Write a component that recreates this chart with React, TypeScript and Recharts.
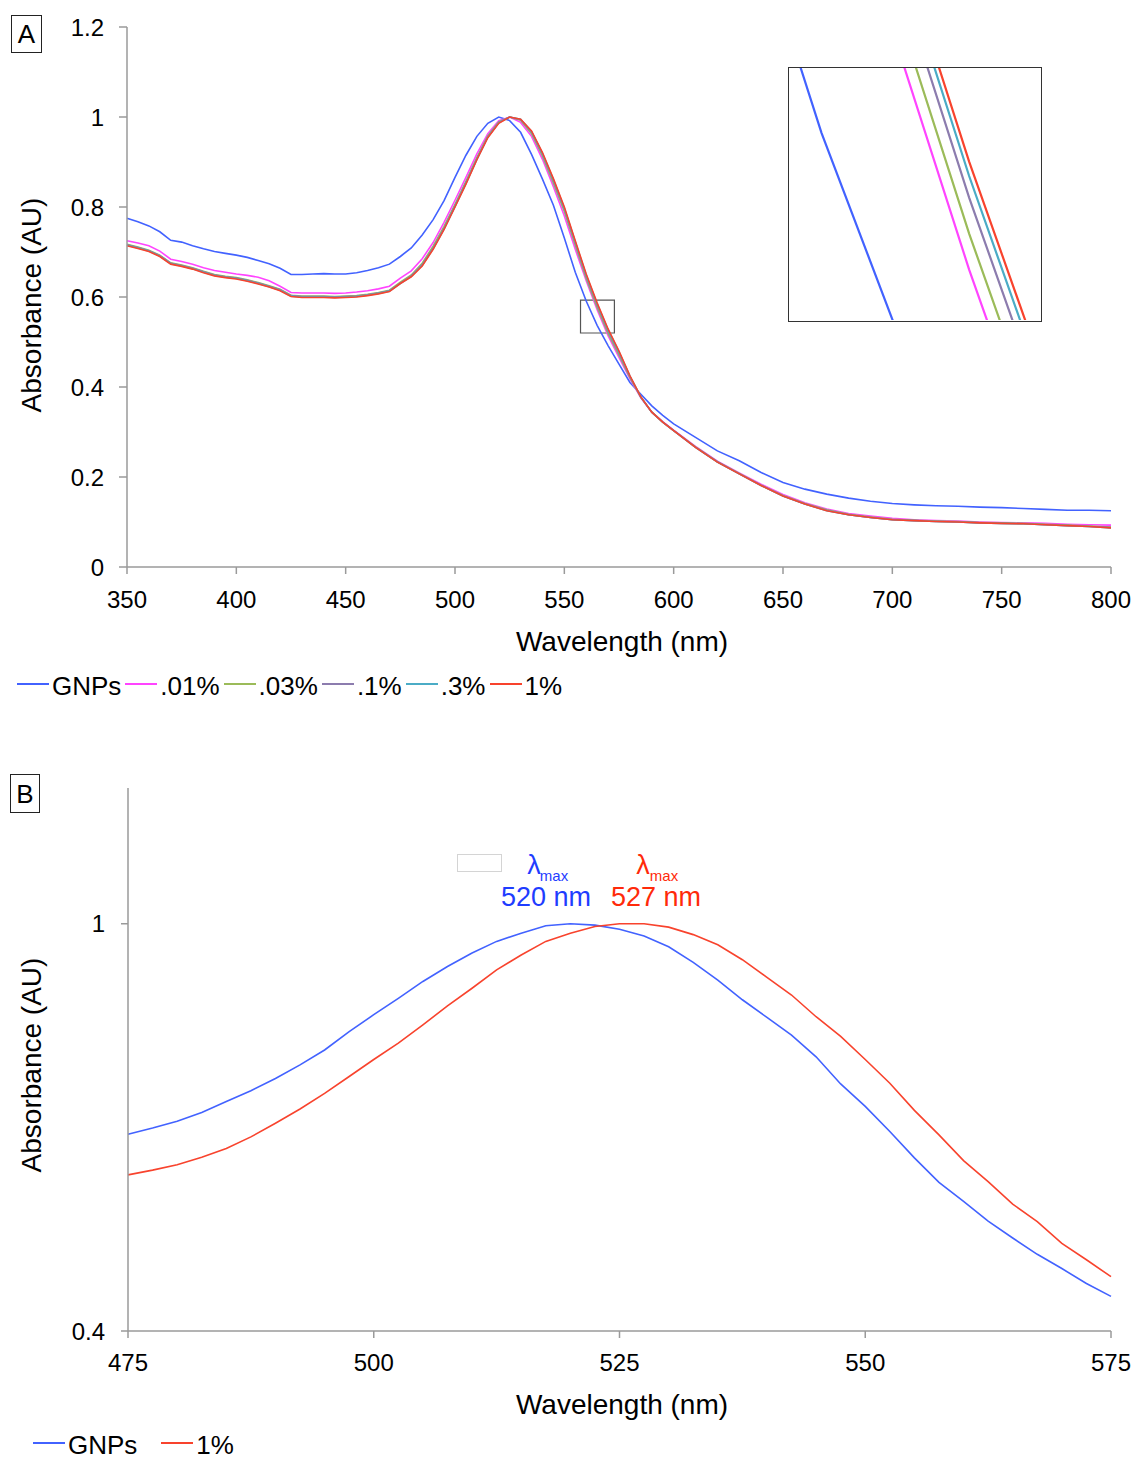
import { LineChart, Line, XAxis, YAxis, ReferenceArea } from "recharts";

const FONT = '"Liberation Sans", Arial, Helvetica, sans-serif';

// Panel A: full spectra, 350-800 nm
const WAVE_A = [
  350, 355, 360, 365, 370, 375, 380, 385, 390, 395,
  400, 405, 410, 415, 420, 425, 430, 435, 440, 445,
  450, 455, 460, 465, 470, 475, 480, 485, 490, 495,
  500, 505, 510, 515, 520, 525, 530, 535, 540, 545,
  550, 555, 560, 565, 570, 575, 580, 585, 590, 595,
  600, 610, 620, 630, 640, 650, 660, 670, 680, 690,
  700, 710, 720, 730, 740, 750, 760, 770, 780, 790,
  800,
];

const GNPS_A = [
  0.775, 0.767, 0.758, 0.745, 0.726, 0.722, 0.714, 0.707, 0.701, 0.697,
  0.693, 0.688, 0.681, 0.674, 0.664, 0.650, 0.650, 0.651, 0.652, 0.651,
  0.651, 0.654, 0.659, 0.665, 0.673, 0.690, 0.709, 0.738, 0.772, 0.814,
  0.866, 0.915, 0.957, 0.986, 1.0, 0.992, 0.966, 0.917, 0.862, 0.804,
  0.731, 0.655, 0.591, 0.537, 0.492, 0.451, 0.410, 0.384, 0.358, 0.337,
  0.318, 0.288, 0.258, 0.236, 0.210, 0.188, 0.173, 0.162, 0.153, 0.146,
  0.141, 0.138, 0.136, 0.135, 0.133, 0.132, 0.130, 0.128, 0.126, 0.126,
  0.125,
];

const P001_A = [
  0.725, 0.720, 0.714, 0.702, 0.684, 0.679, 0.673, 0.665, 0.659, 0.655,
  0.651, 0.648, 0.644, 0.636, 0.624, 0.610, 0.609, 0.609, 0.609, 0.608,
  0.609, 0.611, 0.614, 0.618, 0.624, 0.642, 0.658, 0.685, 0.721, 0.766,
  0.815, 0.866, 0.918, 0.963, 0.992, 1.0, 0.988, 0.957, 0.906, 0.845,
  0.780, 0.706, 0.636, 0.572, 0.514, 0.466, 0.418, 0.376, 0.344, 0.323,
  0.304, 0.268, 0.235, 0.209, 0.184, 0.161, 0.143, 0.129, 0.119, 0.113,
  0.108, 0.105, 0.103, 0.102, 0.100, 0.099, 0.098, 0.097, 0.095, 0.094,
  0.093,
];

const P003_A = [
  0.717, 0.711, 0.704, 0.693, 0.676, 0.671, 0.665, 0.657, 0.650, 0.646,
  0.643, 0.638, 0.632, 0.625, 0.617, 0.604, 0.602, 0.602, 0.602, 0.601,
  0.602, 0.603, 0.606, 0.610, 0.615, 0.633, 0.649, 0.675, 0.713, 0.757,
  0.806, 0.857, 0.910, 0.958, 0.989, 1.0, 0.993, 0.963, 0.913, 0.853,
  0.790, 0.715, 0.641, 0.577, 0.519, 0.471, 0.421, 0.377, 0.344, 0.322,
  0.303, 0.267, 0.234, 0.208, 0.182, 0.159, 0.141, 0.127, 0.117, 0.111,
  0.106, 0.104, 0.102, 0.101, 0.099, 0.098, 0.097, 0.095, 0.093, 0.091,
  0.089,
];

const P01_A = [
  0.716, 0.710, 0.703, 0.692, 0.675, 0.670, 0.664, 0.656, 0.649, 0.645,
  0.642, 0.637, 0.631, 0.624, 0.616, 0.603, 0.601, 0.601, 0.601, 0.600,
  0.601, 0.602, 0.605, 0.609, 0.614, 0.631, 0.647, 0.672, 0.709, 0.753,
  0.803, 0.854, 0.907, 0.956, 0.988, 1.0, 0.994, 0.966, 0.917, 0.858,
  0.795, 0.720, 0.646, 0.582, 0.524, 0.475, 0.423, 0.377, 0.344, 0.322,
  0.303, 0.266, 0.234, 0.207, 0.181, 0.158, 0.140, 0.126, 0.116, 0.110,
  0.105, 0.103, 0.101, 0.100, 0.098, 0.097, 0.096, 0.094, 0.092, 0.090,
  0.088,
];

const P03_A = [
  0.715, 0.709, 0.702, 0.691, 0.674, 0.669, 0.663, 0.655, 0.648, 0.644,
  0.641, 0.636, 0.630, 0.623, 0.615, 0.602, 0.600, 0.600, 0.600, 0.599,
  0.600, 0.601, 0.604, 0.608, 0.613, 0.630, 0.646, 0.670, 0.707, 0.751,
  0.801, 0.852, 0.906, 0.955, 0.987, 1.0, 0.995, 0.968, 0.919, 0.861,
  0.798, 0.723, 0.649, 0.585, 0.527, 0.478, 0.424, 0.378, 0.344, 0.322,
  0.303, 0.266, 0.233, 0.207, 0.181, 0.158, 0.140, 0.125, 0.116, 0.110,
  0.105, 0.103, 0.101, 0.100, 0.098, 0.097, 0.096, 0.094, 0.092, 0.090,
  0.087,
];

const P1_A = [
  0.714, 0.708, 0.701, 0.690, 0.673, 0.668, 0.662, 0.654, 0.647, 0.643,
  0.640, 0.635, 0.629, 0.622, 0.614, 0.601, 0.599, 0.599, 0.599, 0.598,
  0.599, 0.600, 0.603, 0.607, 0.612, 0.630, 0.645, 0.669, 0.706, 0.750,
  0.800, 0.851, 0.905, 0.954, 0.986, 1.0, 0.995, 0.969, 0.921, 0.863,
  0.800, 0.725, 0.651, 0.587, 0.529, 0.480, 0.425, 0.378, 0.344, 0.322,
  0.303, 0.266, 0.233, 0.207, 0.181, 0.158, 0.140, 0.125, 0.116, 0.110,
  0.105, 0.103, 0.101, 0.100, 0.098, 0.097, 0.096, 0.094, 0.092, 0.090,
  0.087,
];

// Panel B: close-up of the peak, 475-575 nm
const WAVE_B = [
  475, 477.5, 480, 482.5, 485, 487.5, 490, 492.5, 495, 497.5,
  500, 502.5, 505, 507.5, 510, 512.5, 515, 517.5, 520, 522.5,
  525, 527.5, 530, 532.5, 535, 537.5, 540, 542.5, 545, 547.5,
  550, 552.5, 555, 557.5, 560, 562.5, 565, 567.5, 570, 572.5,
  575,
];

const GNPS_B = [
  0.690, 0.699, 0.709, 0.722, 0.738, 0.754, 0.772, 0.792, 0.814, 0.841,
  0.866, 0.890, 0.915, 0.937, 0.957, 0.974, 0.986, 0.997, 1.0, 0.998,
  0.992, 0.982, 0.966, 0.943, 0.917, 0.888, 0.862, 0.836, 0.804, 0.764,
  0.731, 0.694, 0.655, 0.619, 0.591, 0.562, 0.537, 0.513, 0.492, 0.470,
  0.451,
];

const P1_B = [
  0.630, 0.637, 0.645, 0.656, 0.669, 0.686, 0.706, 0.727, 0.750, 0.775,
  0.800, 0.824, 0.851, 0.879, 0.905, 0.932, 0.954, 0.974, 0.986, 0.996,
  1.0, 1.0, 0.995, 0.984, 0.969, 0.947, 0.921, 0.895, 0.863, 0.834,
  0.800, 0.765, 0.725, 0.689, 0.651, 0.620, 0.587, 0.561, 0.529, 0.505,
  0.480,
];

const X_TICKS_A = [350, 400, 450, 500, 550, 600, 650, 700, 750, 800];
const Y_TICKS_A = [0, 0.2, 0.4, 0.6, 0.8, 1, 1.2];
const X_TICKS_B = [475, 500, 525, 550, 575];
const Y_TICKS_B = [0.4, 1];

const SERIES_A = [
  { key: "gnp", name: "GNPs", color: "#4262ff", values: GNPS_A },
  { key: "p001", name: ".01%", color: "#ff44ff", values: P001_A },
  { key: "p003", name: ".03%", color: "#9bbb59", values: P003_A },
  { key: "p01", name: ".1%", color: "#8c7cae", values: P01_A },
  { key: "p03", name: ".3%", color: "#4bacc6", values: P03_A },
  { key: "p1", name: "1%", color: "#f8432d", values: P1_A },
];

const SERIES_B = [
  { key: "gnp", name: "GNPs", color: "#4262ff", values: GNPS_B },
  { key: "p1", name: "1%", color: "#f8432d", values: P1_B },
];

const dataA = WAVE_A.map((w, i) => {
  const row: Record<string, number> = { w };
  SERIES_A.forEach((s) => (row[s.key] = s.values[i]));
  return row;
});

const dataB = WAVE_B.map((w, i) => {
  const row: Record<string, number> = { w };
  SERIES_B.forEach((s) => (row[s.key] = s.values[i]));
  return row;
});

const AXIS = "#9a9a9a";
const tickStyle = { fill: "#000", fontSize: 24, fontFamily: FONT };

function Centered({
  x,
  y,
  size,
  color = "#000",
  rotate = false,
  children,
}: {
  x: number;
  y: number;
  size: number;
  color?: string;
  rotate?: boolean;
  children: React.ReactNode;
}) {
  return (
    <div
      style={{
        position: "absolute",
        left: x,
        top: y,
        transform: `translate(-50%, -50%)${rotate ? " rotate(-90deg)" : ""}`,
        fontFamily: FONT,
        fontSize: size,
        lineHeight: 1,
        color,
        whiteSpace: "nowrap",
      }}
    >
      {children}
    </div>
  );
}

function PanelLetter({ x, y, w, h, label }: { x: number; y: number; w: number; h: number; label: string }) {
  return (
    <div
      style={{
        position: "absolute",
        left: x,
        top: y,
        width: w,
        height: h,
        boxSizing: "border-box",
        border: "1.5px solid #222",
        display: "flex",
        alignItems: "center",
        justifyContent: "center",
        fontFamily: FONT,
        fontSize: 26,
        lineHeight: 1,
      }}
    >
      {label}
    </div>
  );
}

function Legend({
  x,
  y,
  items,
  gap,
}: {
  x: number;
  y: number;
  items: { name: string; color: string }[];
  gap: number;
}) {
  return (
    <div
      style={{
        position: "absolute",
        left: x,
        top: y,
        transform: "translateY(-50%)",
        display: "flex",
        alignItems: "center",
        fontFamily: FONT,
        fontSize: 26,
        lineHeight: 1,
      }}
    >
      {items.map((it) => (
        <span key={it.name} style={{ display: "flex", alignItems: "center", marginRight: gap }}>
          <span
            style={{
              display: "inline-block",
              width: 32,
              height: 2,
              background: it.color,
              marginRight: 3,
              marginTop: -4,
            }}
          />
          {it.name}
        </span>
      ))}
    </div>
  );
}

function PanelA() {
  return (
    <div style={{ position: "absolute", left: 0, top: 0 }}>
      <LineChart width={1136} height={660} data={dataA} margin={{ top: 27, right: 25, left: 27, bottom: 53 }}>
        <XAxis
          dataKey="w"
          type="number"
          domain={[350, 800]}
          ticks={X_TICKS_A}
          interval={0}
          height={40}
          tick={tickStyle}
          tickSize={7}
          tickMargin={17}
          axisLine={{ stroke: AXIS, strokeWidth: 1.5 }}
          tickLine={{ stroke: AXIS, strokeWidth: 1.5 }}
        />
        <YAxis
          type="number"
          domain={[0, 1.2]}
          ticks={Y_TICKS_A}
          interval={0}
          width={100}
          tick={tickStyle}
          tickSize={8}
          tickMargin={15}
          axisLine={{ stroke: AXIS, strokeWidth: 1.5 }}
          tickLine={{ stroke: AXIS, strokeWidth: 1.5 }}
        />
        <ReferenceArea x1={557.4} x2={572.9} y1={0.52} y2={0.593} fill="#fff" fillOpacity={0} stroke="#555" strokeWidth={1.2} />
        {SERIES_A.map((s) => (
          <Line
            key={s.key}
            dataKey={s.key}
            type="linear"
            stroke={s.color}
            strokeWidth={1.6}
            dot={false}
            activeDot={false}
            isAnimationActive={false}
          />
        ))}
      </LineChart>

      {/* magnified view of the boxed region */}
      <div
        style={{
          position: "absolute",
          left: 788,
          top: 67,
          width: 254,
          height: 255,
          boxSizing: "border-box",
          border: "1.5px solid #333",
          background: "#fff",
        }}
      >
        <LineChart width={251} height={252} data={dataA} margin={{ top: 0, right: 0, left: 0, bottom: 0 }}>
          <XAxis dataKey="w" type="number" domain={[558.9, 567.4]} allowDataOverflow hide />
          <YAxis type="number" domain={[0.565, 0.6]} allowDataOverflow hide width={0} />
          {SERIES_A.map((s) => (
            <Line
              key={s.key}
              dataKey={s.key}
              type="linear"
              stroke={s.color}
              strokeWidth={2.2}
              dot={false}
              activeDot={false}
              isAnimationActive={false}
            />
          ))}
        </LineChart>
      </div>

      <PanelLetter x={11} y={15} w={31} h={38} label="A" />
      <Centered x={622} y={642} size={28}>Wavelength (nm)</Centered>
      <Centered x={32} y={305} size={28} rotate>Absorbance (AU)</Centered>
      <Legend x={17} y={686} items={SERIES_A} gap={4} />
    </div>
  );
}

function PanelB() {
  return (
    <div style={{ position: "absolute", left: 0, top: 0 }}>
      <div style={{ position: "absolute", left: 0, top: 760 }}>
        <LineChart width={1136} height={640} data={dataB} margin={{ top: 28, right: 25, left: 28, bottom: 29 }}>
          <XAxis
            dataKey="w"
            type="number"
            domain={[475, 575]}
            ticks={X_TICKS_B}
            interval={0}
            height={40}
            tick={tickStyle}
            tickSize={7}
            tickMargin={16}
            axisLine={{ stroke: AXIS, strokeWidth: 1.5 }}
            tickLine={{ stroke: AXIS, strokeWidth: 1.5 }}
          />
          <YAxis
            type="number"
            domain={[0.4, 1.2]}
            ticks={Y_TICKS_B}
            interval={0}
            width={100}
            tick={tickStyle}
            tickSize={7}
            tickMargin={16}
            axisLine={{ stroke: AXIS, strokeWidth: 1.5 }}
            tickLine={{ stroke: AXIS, strokeWidth: 1.5 }}
          />
          {SERIES_B.map((s) => (
            <Line
              key={s.key}
              dataKey={s.key}
              type="linear"
              stroke={s.color}
              strokeWidth={1.6}
              dot={false}
              activeDot={false}
              isAnimationActive={false}
            />
          ))}
        </LineChart>
      </div>

      <div
        style={{
          position: "absolute",
          left: 457,
          top: 854,
          width: 45,
          height: 18,
          boxSizing: "border-box",
          border: "1px solid #d4d4d4",
          background: "#fff",
        }}
      />
      <Centered x={534} y={865} size={27} color="#1f3dff">λ</Centered>
      <Centered x={554} y={875} size={15} color="#1f3dff">max</Centered>
      <Centered x={546} y={897} size={27} color="#1f3dff">520 nm</Centered>
      <Centered x={643} y={865} size={27} color="#ff2a0a">λ</Centered>
      <Centered x={664} y={875} size={15} color="#ff2a0a">max</Centered>
      <Centered x={656} y={897} size={27} color="#ff2a0a">527 nm</Centered>

      <PanelLetter x={10} y={774} w={30} h={39} label="B" />
      <Centered x={622} y={1405} size={28}>Wavelength (nm)</Centered>
      <Centered x={32} y={1065} size={28} rotate>Absorbance (AU)</Centered>
      <Legend x={33} y={1445} items={SERIES_B} gap={24} />
    </div>
  );
}

export default function App() {
  return (
    <div
      style={{
        position: "absolute",
        left: 0,
        top: 0,
        width: 1136,
        height: 1459,
        background: "#fff",
        overflow: "hidden",
      }}
    >
      <PanelA />
      <PanelB />
    </div>
  );
}
